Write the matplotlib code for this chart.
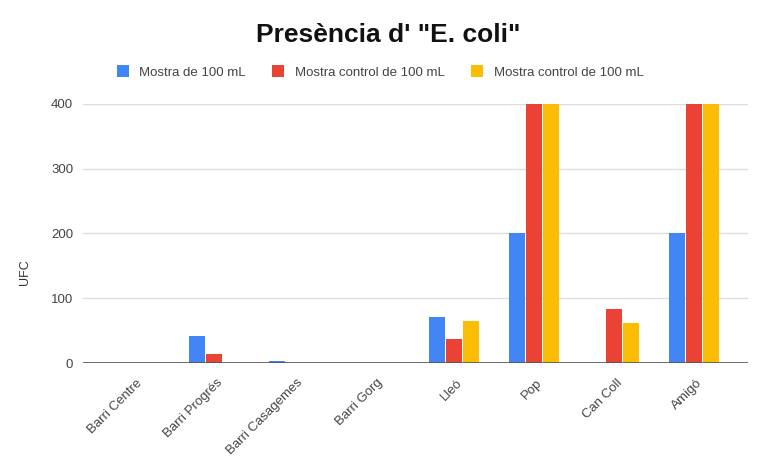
import numpy as np
import matplotlib.pyplot as plt
from matplotlib.transforms import ScaledTranslation

plt.rcParams['font.family'] = ['Liberation Sans', 'DejaVu Sans']

llocs = ["Barri Centre", "Barri Progrés", "Barri Casagemes", "Barri Gorg",
         "Lleó", "Pop", "Can Coll", "Amigó"]
mostra = [0, 42, 3, 0, 71, 200, 0, 200]
control_1 = [0, 14, 0, 0, 37, 400, 83, 400]
control_2 = [0, 0, 0, 0, 65, 400, 62, 400]
series_names = ["Mostra de 100 mL", "Mostra control de 100 mL", "Mostra control de 100 mL"]
colors = ["#4285F4", "#EA4335", "#FBBC04"]
yticks = [0, 100, 200, 300, 400]

fig = plt.figure(figsize=(7.76, 4.65), dpi=100)
ax = fig.add_axes([83 / 776, 1 - 363 / 465, (748 - 83) / 776, (363 - 104) / 465])

x = np.arange(len(llocs))
w = 0.2
step = 0.21
for k, (vals, name, c) in enumerate(zip([mostra, control_1, control_2], series_names, colors)):
    ax.bar(x + (k - 1) * step, vals, width=w, color=c, label=name, zorder=3)

ax.set_ylim(0, 400)
ax.set_xlim(-0.64, len(llocs) - 1 + 0.675)
ax.set_yticks(yticks)
ax.yaxis.grid(True, color="#dddddd", linewidth=1, zorder=0)
ax.axhline(0, color="#555555", linewidth=1.2, zorder=4)
for s in ax.spines.values():
    s.set_visible(False)
ax.tick_params(axis="both", length=0, colors="#444444", labelsize=9.5)
ax.tick_params(axis="y", pad=7)
ax.set_xticks(x)
ax.set_xticklabels(llocs, rotation=45, ha="right", va="top", rotation_mode="anchor")
ax.tick_params(axis="x", pad=10, labelsize=9.5)
# nudge the slanted labels a little to the right
shift = ScaledTranslation(1.5 / 72, 0, fig.dpi_scale_trans)
for lbl in ax.get_xticklabels():
    lbl.set_transform(lbl.get_transform() + shift)
ax.set_ylabel("UFC", fontsize=9, color="#333333")
ax.yaxis.set_label_coords(-0.078, 0.35)

fig.suptitle('Presència d\' "E. coli"', x=0.5, y=1 - 35 / 465, va="center",
             fontsize=19, fontweight="bold", color="#111111")
fig.legend(loc="center", bbox_to_anchor=(0.49, 1 - 72 / 465), ncol=3, frameon=False,
           fontsize=9.5, handlelength=0.9, handleheight=1.0, columnspacing=2.0,
           handletextpad=0.8, labelcolor="#444444")

fig.savefig("out.png", dpi=100, facecolor="white")
